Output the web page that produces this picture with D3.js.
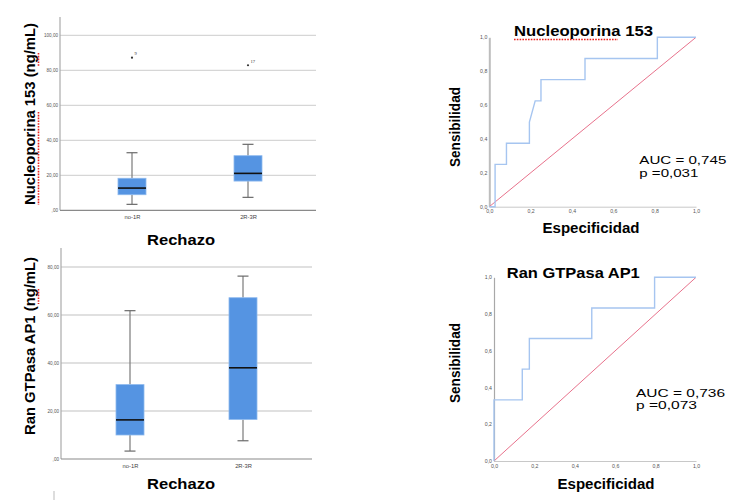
<!DOCTYPE html>
<html><head><meta charset="utf-8">
<script src="https://cdn.jsdelivr.net/npm/d3@7"></script>
<style>body{margin:0;background:#fff}svg{display:block}</style>
</head><body>
<svg id="c" width="750" height="500"></svg>
<script>
// ---- data ----
const boxCats = ["no-1R", "2R-3R"];
// Nucleoporina 153 (ng/mL)
const nupMin = [3.4, 7.4];
const nupQ1  = [8.9, 16.7];
const nupMed = [12.7, 21.1];
const nupQ3  = [18.3, 31.2];
const nupMax = [32.9, 37.7];
const nupOutVal = [87.2, 82.9];
const nupOutId  = ["9", "17"];
const nupTicks = [0, 20, 40, 60, 80, 100];
// Ran GTPasa AP1 (ng/mL)
const ranMin = [3.3, 7.6];
const ranQ1  = [10.0, 16.5];
const ranMed = [16.3, 38.0];
const ranQ3  = [31.0, 67.2];
const ranMax = [61.8, 76.2];
const ranTicks = [0, 20, 40, 60, 80];
// ROC curves (1 - especificidad, sensibilidad)
const nupFpr = [0, 0.028, 0.028, 0.083, 0.083, 0.194, 0.194, 0.222, 0.25, 0.25, 0.463, 0.463, 0.813, 0.813, 1];
const nupTpr = [0, 0, 0.25, 0.25, 0.375, 0.375, 0.5, 0.625, 0.625, 0.75, 0.75, 0.875, 0.875, 1, 1];
const ranFpr = [0, 0, 0.14, 0.14, 0.175, 0.175, 0.484, 0.484, 0.795, 0.795, 1];
const ranTpr = [0, 0.333, 0.333, 0.5, 0.5, 0.667, 0.667, 0.833, 0.833, 1, 1];
const rocTicks = [0, 0.2, 0.4, 0.6, 0.8, 1];
const nupAuc = ["AUC = 0,745", "p =0,031"];
const ranAuc = ["AUC = 0,736", "p =0,073"];

const svg = d3.select("#c");
svg.append("rect").attr("width", 750).attr("height", 500).attr("fill", "#fff");
const FONT = "'Liberation Sans', Arial, sans-serif";

function boxplot(cfg) {
  const g = svg.append("g");
  const y = d3.scaleLinear().domain([0, cfg.gridMax]).range([cfg.y0, cfg.yTop]);
  const x = d3.scalePoint().domain(boxCats).range(cfg.xc);
  // gridlines
  g.append("g").selectAll("line").data(cfg.ticks.filter(d => d > 0)).join("line")
    .attr("x1", cfg.xl).attr("x2", cfg.xr).attr("y1", d => y(d)).attr("y2", d => y(d))
    .attr("stroke", "#d6d6d6").attr("stroke-width", 1.3);
  // y axis
  const ya = d3.axisLeft(y).tickValues(cfg.ticks).tickSize(0).tickPadding(2)
    .tickFormat(d => d === 0 ? ",00" : d.toFixed(2).replace(".", ","));
  const yg = g.append("g").attr("transform", `translate(${cfg.xl},0)`).call(ya);
  yg.select(".domain").remove();
  yg.selectAll("text").attr("font-size", 4.6).attr("font-family", FONT).attr("fill", "#555");
  g.append("line").attr("x1", cfg.xl).attr("x2", cfg.xl).attr("y1", cfg.axisTop).attr("y2", cfg.y0)
    .attr("stroke", "#aaa").attr("stroke-width", 1.2);
  // x axis
  const xa = d3.axisBottom(x).tickSize(0).tickPadding(5);
  const xg = g.append("g").attr("transform", `translate(0,${cfg.y0})`).call(xa);
  xg.select(".domain").remove();
  xg.selectAll("text").attr("font-size", 5.8).attr("font-family", FONT).attr("fill", "#444");
  g.append("line").attr("x1", cfg.xl).attr("x2", cfg.xr).attr("y1", cfg.y0).attr("y2", cfg.y0)
    .attr("stroke", "#8a8a8a").attr("stroke-width", 1.2);
  // boxes
  const bw = 28, cw = 11;
  boxCats.forEach((c, i) => {
    const cx = x(c);
    const bg = g.append("g");
    bg.append("line").attr("x1", cx).attr("x2", cx).attr("y1", y(cfg.max[i])).attr("y2", y(cfg.q3[i]))
      .attr("stroke", "#7a7a7a").attr("stroke-width", 1.2);
    bg.append("line").attr("x1", cx).attr("x2", cx).attr("y1", y(cfg.q1[i])).attr("y2", y(cfg.min[i]))
      .attr("stroke", "#7a7a7a").attr("stroke-width", 1.2);
    [cfg.max[i], cfg.min[i]].forEach(v => bg.append("line")
      .attr("x1", cx - cw / 2).attr("x2", cx + cw / 2).attr("y1", y(v)).attr("y2", y(v))
      .attr("stroke", "#6a6a6a").attr("stroke-width", 1.2));
    bg.append("rect").attr("x", cx - bw / 2).attr("width", bw)
      .attr("y", y(cfg.q3[i])).attr("height", y(cfg.q1[i]) - y(cfg.q3[i]))
      .attr("fill", "#5594e2").attr("stroke", "#8db8ee").attr("stroke-width", 0.8);
    bg.append("line").attr("x1", cx - bw / 2).attr("x2", cx + bw / 2).attr("y1", y(cfg.med[i])).attr("y2", y(cfg.med[i]))
      .attr("stroke", "#111").attr("stroke-width", 1.6);
    if (cfg.outVal) {
      bg.append("circle").attr("cx", cx).attr("cy", y(cfg.outVal[i])).attr("r", 1.1).attr("fill", "#333");
      bg.append("text").attr("x", cx + 2.5).attr("y", y(cfg.outVal[i]) - 2.5).text(cfg.outId[i])
        .attr("font-size", 4.6).attr("font-family", "'Liberation Serif', serif").attr("fill", "#333");
    }
  });
}

boxplot({ y0: 210.3, yTop: 35.3, gridMax: 100, axisTop: 17, xl: 60, xr: 316, xc: [132, 248],
  ticks: nupTicks, min: nupMin, q1: nupQ1, med: nupMed, q3: nupQ3, max: nupMax,
  outVal: nupOutVal, outId: nupOutId });
boxplot({ y0: 459, yTop: 267, gridMax: 80, axisTop: 248, xl: 61, xr: 312, xc: [130, 243],
  ticks: ranTicks, min: ranMin, q1: ranQ1, med: ranMed, q3: ranQ3, max: ranMax });

function boldText(x, y, txt, size, len, rot) {
  const t = svg.append("text").attr("font-family", FONT).attr("font-weight", "bold")
    .attr("font-size", size).attr("fill", "#000").attr("text-anchor", "middle").text(txt);
  if (len) t.attr("textLength", len).attr("lengthAdjust", "spacingAndGlyphs");
  if (rot) t.attr("transform", `translate(${x},${y}) rotate(-90)`);
  else t.attr("x", x).attr("y", y);
  return t;
}
// box plot titles
boldText(35, 114, "Nucleoporina 153 (ng/mL)", 15.5, 182, true);
boldText(35, 346, "Ran GTPasa AP1 (ng/mL)", 15.5, 178, true);
boldText(181, 245, "Rechazo", 15, 68);
boldText(181, 489, "Rechazo", 15, 68);
// spell-check red underlines
function redDash(x1, y1, x2, y2) {
  svg.append("line").attr("x1", x1).attr("y1", y1).attr("x2", x2).attr("y2", y2)
    .attr("stroke", "#e8231f").attr("stroke-width", 1.6).attr("stroke-dasharray", "1.6,1.2");
}
redDash(38.5, 112, 38.5, 205);
redDash(38.5, 53, 38.5, 66);
redDash(38.5, 289, 38.5, 304);
redDash(514, 39.5, 618, 39.5);
svg.append("line").attr("x1", 54).attr("x2", 54).attr("y1", 491).attr("y2", 500).attr("stroke", "#aaa").attr("stroke-width", 0.8);

function roc(cfg) {
  const g = svg.append("g");
  const x = d3.scaleLinear().domain([0, 1]).range([cfg.x0, cfg.x1]);
  const y = d3.scaleLinear().domain([0, 1]).range([cfg.y0, cfg.y1]);
  const fmt = d => d.toFixed(1).replace(".", ",");
  const xa = d3.axisBottom(x).tickValues(rocTicks).tickSize(0).tickPadding(3).tickFormat(fmt);
  const xg = g.append("g").attr("transform", `translate(0,${cfg.y0})`).call(xa);
  xg.select(".domain").attr("stroke", "#c8c8c8").attr("stroke-width", 1);
  xg.selectAll("text").attr("font-size", 5.2).attr("font-family", FONT).attr("fill", "#555");
  const ya = d3.axisLeft(y).tickValues(rocTicks).tickSize(0).tickPadding(2).tickFormat(fmt);
  const yg = g.append("g").attr("transform", `translate(${cfg.x0},0)`).call(ya);
  yg.select(".domain").attr("stroke", cfg.axisColor).attr("stroke-width", cfg.axisW);
  yg.selectAll("text").attr("font-size", 5.2).attr("font-family", FONT).attr("fill", "#555");
  // reference line
  g.append("line").attr("x1", x(0)).attr("y1", y(0)).attr("x2", x(1)).attr("y2", y(1))
    .attr("stroke", "#e8728c").attr("stroke-width", 1);
  const pts = cfg.fpr.map((f, i) => [f, cfg.tpr[i]]);
  g.append("path").attr("d", d3.line().x(d => x(d[0])).y(d => y(d[1]))(pts))
    .attr("fill", "none").attr("stroke", "#a6c5f0").attr("stroke-width", 1.4);
  boldText(cfg.titleX, cfg.titleY, cfg.title, 15, cfg.titleLen);
  boldText(460, cfg.sensY, "Sensibilidad", 14, 80, true);
  boldText(cfg.espX, cfg.espY, "Especificidad", 14, 97);
  cfg.auc.forEach((s, i) => svg.append("text").attr("x", cfg.aucX).attr("y", cfg.aucY + i * 12.6)
    .attr("font-family", FONT).attr("font-size", 11.5).attr("fill", "#000")
    .attr("textLength", cfg.aucLen[i]).attr("lengthAdjust", "spacingAndGlyphs").text(s));
}
roc({ x0: 489.3, x1: 696, y0: 206.7, y1: 37.3, fpr: nupFpr, tpr: nupTpr, axisColor: "#bdbdbd", axisW: 2,
  title: "Nucleoporina 153", titleX: 583.5, titleY: 35.7, titleLen: 139,
  sensY: 127, espX: 591, espY: 233.3, auc: nupAuc, aucX: 639.3, aucY: 164.3, aucLen: [87, 59] });
roc({ x0: 494, x1: 696, y0: 461, y1: 277.3, fpr: ranFpr, tpr: ranTpr, axisColor: "#a8a8a8", axisW: 1.2,
  title: "Ran GTPasa AP1", titleX: 573.3, titleY: 278.3, titleLen: 133,
  sensY: 363, espX: 606, espY: 489.3, auc: ranAuc, aucX: 636, aucY: 396.7, aucLen: [89, 61] });
</script>
</body></html>
